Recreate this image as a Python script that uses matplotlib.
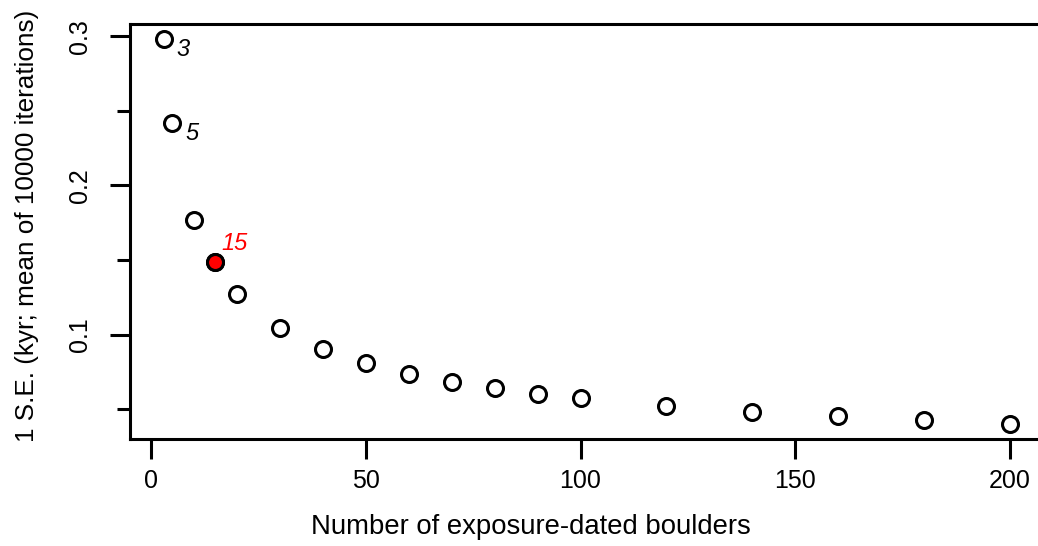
# Standard error of exposure ages against number of dated boulders
import matplotlib
matplotlib.use("Agg")
import matplotlib.pyplot as plt
from matplotlib.ticker import MultipleLocator

plt.rcParams['font.family'] = ['Liberation Sans', 'DejaVu Sans']

# number of boulders and the 1 S.E.
n_boulders = [3, 5, 10, 15, 20, 30, 40, 50, 60, 70, 80, 90, 100,
              120, 140, 160, 180, 200]
std_err = [0.2978, 0.2415, 0.1767, 0.1487, 0.1275, 0.1043, 0.0902, 0.0808,
           0.0735, 0.0681, 0.0641, 0.0601, 0.0574, 0.0520, 0.0480, 0.0453,
           0.0426, 0.0404]

# labelled points
label_n = [3, 5]
label_se = [0.2978, 0.2415]
highlight_n = 15
highlight_se = 0.1487


def main():
    fig = plt.figure(figsize=(10.38, 5.46), dpi=100)
    ax = fig.add_axes([0.1252, 0.196, 0.8806, 0.760])

    # open circles for all points, red one for n = 15
    ax.plot(n_boulders, std_err, 'o', ms=11.5, mfc='white', mec='black',
            mew=2.2, clip_on=False)
    ax.plot([highlight_n], [highlight_se], 'o', ms=11.5, mfc='red',
            mec='black', mew=2.2, clip_on=False)

    for n, se in zip(label_n, label_se):
        ax.annotate(str(n), (n, se), xytext=(14, -7), textcoords='offset points',
                    fontsize=17, fontstyle='italic', va='center', ha='center')
    ax.annotate(str(highlight_n), (highlight_n, highlight_se), xytext=(14, 13),
                textcoords='offset points', fontsize=17, fontstyle='italic',
                color='red', va='center', ha='center')

    ax.set_xlim(-4.88, 207.88)
    ax.set_ylim(0.0301, 0.3081)

    ax.xaxis.set_major_locator(MultipleLocator(50))
    ax.set_yticks([0.1, 0.2, 0.3])
    ax.set_yticks([0.05, 0.15, 0.25], minor=True)
    ax.set_yticklabels(['0.1', '0.2', '0.3'], rotation=90, va='center')

    ax.tick_params(axis='both', which='major', direction='out', length=14.4,
                   width=2.2, labelsize=18, color='black')
    ax.tick_params(axis='x', pad=7)
    ax.tick_params(axis='y', pad=13)
    ax.tick_params(axis='y', which='minor', direction='out', length=9.5,
                   width=2.2)

    for side in ['left', 'top', 'bottom', 'right']:
        ax.spines[side].set_linewidth(2.2)

    ax.set_xlabel("Number of exposure-dated boulders", fontsize=19.8)
    ax.set_ylabel("1 S.E. (kyr; mean of 10000 iterations)", fontsize=18.8)
    ax.xaxis.set_label_coords(0.439, -0.180)
    ax.yaxis.set_label_coords(-0.100, 0.513)

    fig.savefig("out.png", dpi=100)


if __name__ == '__main__':
    main()
